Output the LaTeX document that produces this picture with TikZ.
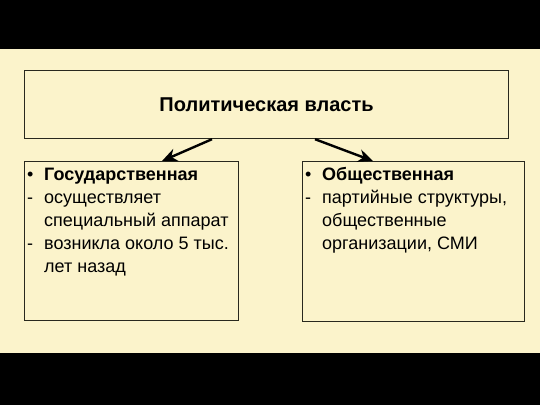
\documentclass[tikz,border=0pt]{standalone}
\usepackage{fontspec}
\setmainfont{Liberation Sans}
\usetikzlibrary{calc, arrows.meta}
\definecolor{parch}{RGB}{251, 243, 203}
\definecolor{frame}{RGB}{40, 40, 30}

\begin{document}
\begin{tikzpicture}[x=1pt, y=-1pt,
    box/.style={draw=frame, line width=1.2pt, anchor=north west, inner sep=0pt},
    txt/.style={anchor=north west, inner sep=0pt, align=left, font=\fontsize{18}{23}\selectfont},
    arr/.style={line width=2.4pt, -{Stealth[length=15pt, width=13pt]}}]
  \fill[color=black] (0, 0) rectangle (540, 405);
  \fill[color=parch] (0, 49) rectangle (540, 353);
  \node[box, minimum width=484pt, minimum height=68pt] (pol) at (24, 70) {};
  \node[font=\bfseries\fontsize{20}{24}\selectfont] (poltitle) at (pol.center) {Политическая власть};
  \node[box, minimum width=214pt, minimum height=159pt] (gos) at (24, 161) {};
  \node[box, minimum width=222pt, minimum height=160pt] (obs) at (302, 161) {};
  \node[txt] (gostext) at (27, 164) {%
    \begin{tabular}{@{}p{10pt}@{\hspace{7pt}}l@{}}
      \textbullet & \textbf{Государственная} \\
      - & осуществляет \\
        & специальный аппарат \\
      - & возникла около 5 тыс. \\
        & лет назад
    \end{tabular}};
  \node[txt] (obstext) at (305, 164) {%
    \begin{tabular}{@{}p{10pt}@{\hspace{7pt}}l@{}}
      \textbullet & \textbf{Общественная} \\
      - & партийные структуры, \\
        & общественные \\
        & организации, СМИ
    \end{tabular}};
  \draw[arr] ($(pol.south west)+(188, 0)$) to ($(gos.north west)+(138, 0)$);
  \draw[arr] ($(pol.south west)+(291, 0)$) to ($(obs.north west)+(71, 0)$);
\end{tikzpicture}
\end{document}
